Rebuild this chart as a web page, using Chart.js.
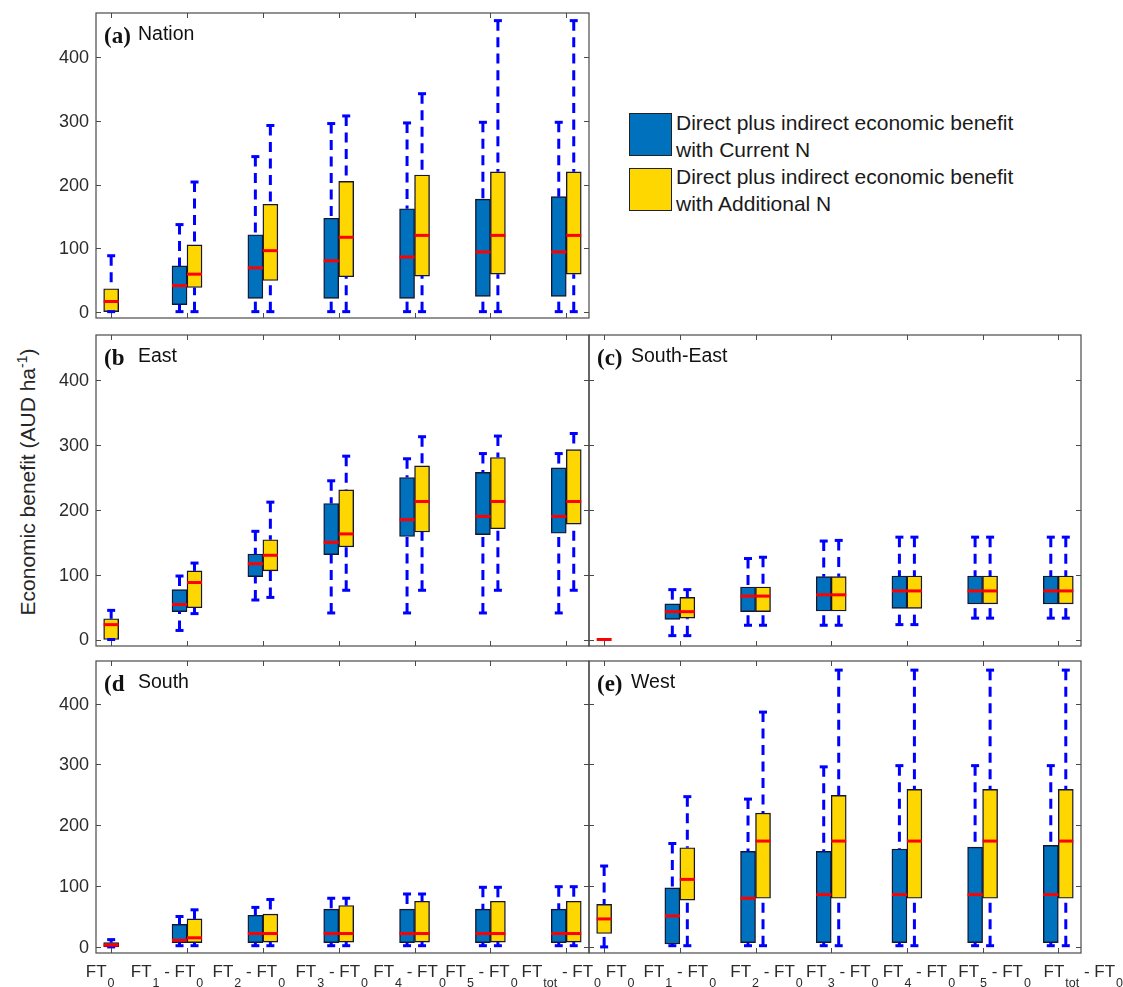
<!DOCTYPE html>
<html>
<head>
<meta charset="utf-8">
<script src="https://cdn.jsdelivr.net/npm/chart.js@4.4.1/dist/chart.umd.min.js"></script>
<style>
    body { margin: 0; background: #fff; font-family: "Liberation Sans", Arial, sans-serif; }
    #page { position: relative; width: 1123px; height: 987px; overflow: hidden; }
    #page canvas { position: absolute; left: 0; top: 0; }
    #ytitle { position: absolute; left: 27px; top: 482px; transform: translate(-50%, -50%) rotate(-90deg);
        white-space: nowrap; font-size: 21px; color: #262626; }
    #ytitle sup { font-size: 14px; }
    .swatch { position: absolute; width: 41px; height: 41px; border: 1px solid #222; }
    .legtext { position: absolute; font-size: 21px; line-height: 27px; color: #1a1a1a; white-space: nowrap; }
</style>
</head>
<body>
<div id="page">
    <div id="ytitle">Economic benefit (AUD ha<sup>-1</sup>)</div>
    <div class="swatch" style="left:629px;top:113px;background:#0072BD"></div>
    <div class="legtext" style="left:676px;top:109px">Direct plus indirect economic benefit<br>with Current N</div>
    <div class="swatch" style="left:629px;top:168px;background:#FFD700"></div>
    <div class="legtext" style="left:676px;top:163px">Direct plus indirect economic benefit<br>with Additional N</div>
</div>
<script>
// Categories and tick labels (main text / subscript pairs)
const categories = ['FT0', 'FT1 - FT0', 'FT2 - FT0', 'FT3 - FT0', 'FT4 - FT0', 'FT5 - FT0', 'FTtot - FT0'];
const tickLabelParts = [
    ['FT', '0'],
    ['FT', '1', ' - FT', '0'],
    ['FT', '2', ' - FT', '0'],
    ['FT', '3', ' - FT', '0'],
    ['FT', '4', ' - FT', '0'],
    ['FT', '5', ' - FT', '0'],
    ['FT', 'tot', ' - FT', '0']
];
const yTicks = [0, 100, 200, 300, 400];

// Box stats per category: [lower whisker, q1, median, q3, upper whisker]
const nationCurrent = [null, [0, 11, 41, 72, 137], [0, 21, 69, 121, 244], [0, 21, 80, 147, 296], [0, 21, 86, 162, 297], [0, 24, 94, 177, 298], [0, 24, 94, 181, 298]];
const nationAdditional = [[0, 0, 16, 36, 88], [0, 38, 59, 105, 204], [0, 49, 96, 169, 293], [0, 55, 117, 205, 308], [0, 56, 120, 215, 343], [0, 59, 120, 220, 458], [0, 59, 120, 220, 458]];

const eastCurrent = [null, [14, 43, 54, 77, 98], [61, 97, 117, 132, 167], [41, 131, 150, 210, 245], [41, 159, 185, 250, 279], [41, 162, 190, 258, 287], [41, 164, 190, 265, 287]];
const eastAdditional = [[0, 0, 23, 32, 45], [40, 49, 88, 106, 118], [65, 106, 130, 154, 212], [76, 143, 163, 231, 283], [76, 166, 213, 268, 313], [76, 171, 213, 281, 314], [76, 178, 213, 293, 318]];

const southEastCurrent = [null, [6, 31, 43, 55, 77], [22, 43, 67, 81, 125], [22, 44, 69, 97, 152], [23, 48, 75, 98, 158], [33, 55, 75, 98, 158], [33, 55, 75, 98, 158]];
const southEastAdditional = [[0, 0, 0, 0, 0], [6, 33, 43, 65, 77], [22, 43, 67, 81, 127], [22, 44, 69, 97, 153], [23, 48, 75, 98, 158], [33, 55, 75, 98, 158], [33, 55, 75, 98, 158]];

const southCurrent = [null, [2, 7, 11, 37, 50], [2, 7, 22, 52, 65], [2, 7, 22, 62, 80], [2, 7, 22, 62, 87], [2, 7, 22, 62, 98], [2, 7, 22, 62, 99]];
const southAdditional = [[0, 0, 3, 7, 12], [2, 7, 15, 46, 61], [2, 8, 22, 54, 78], [2, 8, 22, 68, 80], [2, 8, 22, 75, 87], [2, 8, 22, 75, 98], [2, 8, 22, 75, 99]];

const westCurrent = [null, [2, 5, 51, 97, 170], [2, 7, 80, 157, 243], [2, 7, 86, 157, 296], [2, 7, 86, 161, 298], [2, 7, 86, 164, 298], [2, 7, 86, 167, 298]];
const westAdditional = [[0, 22, 46, 70, 133], [2, 77, 111, 163, 247], [2, 80, 174, 220, 386], [2, 80, 174, 249, 455], [2, 80, 174, 259, 455], [2, 80, 174, 259, 455], [2, 80, 174, 259, 455]];

const W = 1123, H = 987;
const BLUE = '#0072BD', YELLOW = '#FFD700', EDGE = '#161630';
const WHISKER = '#0000FF', MEDIAN = '#FF0000', AXIS = '#4a4a4a', TEXT = '#2b2b2b';

// Panel layout (frame edges in px) and text bits
const panels = [
    { tag: '(a)', name: 'Nation', current: nationCurrent, additional: nationAdditional,
      frame: { l: 96, t: 13, r: 589, b: 318 }, yLabels: true, xLabelShift: null },
    { tag: '(b', name: 'East', current: eastCurrent, additional: eastAdditional,
      frame: { l: 96, t: 335, r: 589, b: 646 }, yLabels: true, xLabelShift: null },
    { tag: '(c)', name: 'South-East', current: southEastCurrent, additional: southEastAdditional,
      frame: { l: 589, t: 335, r: 1081, b: 646 }, yLabels: false, xLabelShift: null },
    { tag: '(d', name: 'South', current: southCurrent, additional: southAdditional,
      frame: { l: 96, t: 661, r: 589, b: 953 }, yLabels: true, xLabelShift: [-11, -20, -14, -7, -5, -9, -5] },
    { tag: '(e)', name: 'West', current: westCurrent, additional: westAdditional,
      frame: { l: 589, t: 661, r: 1081, b: 953 }, yLabels: false, xLabelShift: [16, 0, 11, 11, 12, 12, 25] }
];

function line(ctx, x1, y1, x2, y2) {
    ctx.beginPath();
    ctx.moveTo(x1, y1);
    ctx.lineTo(x2, y2);
    ctx.stroke();
}

// Whiskers, caps and medians on top of the floating bars
const boxPlugin = {
    id: 'boxPlot',
    afterDatasetsDraw(chart) {
        const ctx = chart.ctx;
        const yScale = chart.scales.y;
        ctx.save();
        chart.data.datasets.forEach((ds, di) => {
            const meta = chart.getDatasetMeta(di);
            ds.stats.forEach((s, i) => {
                if (!s) return;
                const el = meta.data[i];
                const x = el.x, half = el.width / 2;
                const py = v => yScale.getPixelForValue(v);
                ctx.strokeStyle = WHISKER;
                ctx.lineWidth = 3;
                ctx.lineCap = 'butt';
                ctx.setLineDash([10, 6.5]);
                if (s[4] > s[3]) line(ctx, x, py(s[4]), x, py(s[3]));
                if (s[1] > s[0]) line(ctx, x, py(s[0]), x, py(s[1]));
                ctx.setLineDash([]);
                line(ctx, x - 4, py(s[4]), x + 4, py(s[4]));
                line(ctx, x - 4, py(s[0]), x + 4, py(s[0]));
                ctx.strokeStyle = MEDIAN;
                ctx.lineWidth = 3;
                line(ctx, x - half, py(s[2]), x + half, py(s[2]));
            });
        });
        ctx.restore();
    },
    afterDraw(chart) {
        const ctx = chart.ctx;
        const p = chart.options.panel;
        const { left, top, right, bottom } = chart.chartArea;
        const xScale = chart.scales.x, yScale = chart.scales.y;
        ctx.save();
        // frame and inward ticks
        ctx.strokeStyle = AXIS;
        ctx.lineWidth = 1.2;
        ctx.strokeRect(left, top, right - left, bottom - top);
        ctx.lineWidth = 1;
        categories.forEach((c, i) => {
            const px = Math.round(xScale.getPixelForValue(i + 1)) + 0.5;
            line(ctx, px, bottom, px, bottom - 5);
            line(ctx, px, top, px, top + 5);
        });
        yTicks.forEach(v => {
            const py = Math.round(yScale.getPixelForValue(v)) + 0.5;
            line(ctx, left, py, left + 5, py);
            line(ctx, right, py, right - 5, py);
        });
        // y tick labels
        ctx.fillStyle = TEXT;
        if (p.yLabels) {
            ctx.font = '18px "Liberation Sans", Arial, sans-serif';
            ctx.textAlign = 'right';
            ctx.textBaseline = 'middle';
            yTicks.forEach(v => ctx.fillText(String(v), left - 7, yScale.getPixelForValue(v) + 1));
        }
        // x tick labels with subscripts
        if (p.xLabelShift) {
            const mainFont = '17px "Liberation Sans", Arial, sans-serif';
            const subFont = '12.5px "Liberation Sans", Arial, sans-serif';
            ctx.textAlign = 'left';
            ctx.textBaseline = 'alphabetic';
            tickLabelParts.forEach((parts, i) => {
                const widths = parts.map((t, k) => {
                    ctx.font = k % 2 ? subFont : mainFont;
                    return ctx.measureText(t).width + (k % 2 ? 1 : 0);
                });
                const total = widths.reduce((a, b) => a + b, 0);
                let x = xScale.getPixelForValue(i + 1) + p.xLabelShift[i] - total / 2;
                const base = bottom + 24;
                parts.forEach((t, k) => {
                    ctx.font = k % 2 ? subFont : mainFont;
                    ctx.fillText(t, x + (k % 2 ? 1 : 0), k % 2 ? base + 10 : base);
                    x += widths[k];
                });
            });
        }
        // panel tag and name
        ctx.textAlign = 'left';
        ctx.textBaseline = 'alphabetic';
        ctx.fillStyle = '#111';
        ctx.font = 'bold 23px "Liberation Serif", "Times New Roman", serif';
        ctx.fillText(p.tag, left + 8, top + 30);
        ctx.font = '19.5px "Liberation Sans", Arial, sans-serif';
        ctx.fillText(p.name, left + 42, top + 27);
        ctx.restore();
    }
};

function makeBars(stats) {
    return stats.map((s, i) => ({ x: i + 1, y: s ? [s[1], s[3]] : null }));
}

const page = document.getElementById('page');
panels.forEach(p => {
    const canvas = document.createElement('canvas');
    canvas.width = W;
    canvas.height = H;
    page.appendChild(canvas);
    new Chart(canvas, {
        type: 'bar',
        data: {
            datasets: [
                { label: 'Direct plus indirect economic benefit with Current N', data: makeBars(p.current), stats: p.current,
                  backgroundColor: BLUE, borderColor: EDGE, borderWidth: 1.4, borderSkipped: false,
                  barThickness: 15, skipNull: true },
                { label: 'Direct plus indirect economic benefit with Additional N', data: makeBars(p.additional), stats: p.additional,
                  backgroundColor: YELLOW, borderColor: EDGE, borderWidth: 1.4, borderSkipped: false,
                  barThickness: 15, skipNull: true }
            ]
        },
        options: {
            panel: p,
            responsive: false,
            animation: false,
            layout: { padding: { left: p.frame.l, top: p.frame.t, right: W - p.frame.r, bottom: H - p.frame.b } },
            plugins: { legend: { display: false }, tooltip: { enabled: false } },
            scales: {
                x: { type: 'linear', min: 0.8, max: 7.3, offset: false, display: false },
                y: { min: -10, max: 470, display: false }
            }
        },
        plugins: [boxPlugin]
    });
});
</script>
</body>
</html>
